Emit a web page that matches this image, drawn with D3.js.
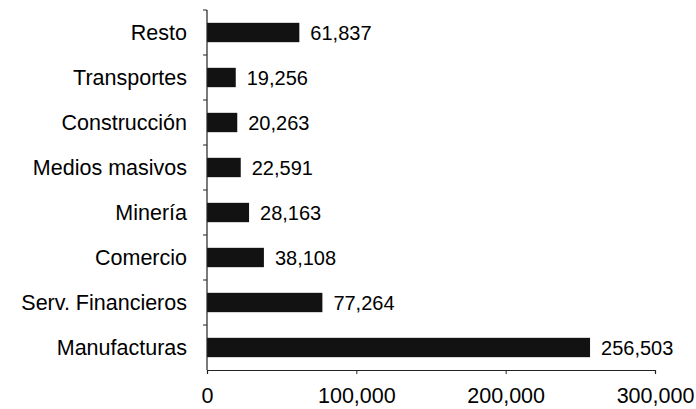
<!DOCTYPE html>
<meta charset="utf-8">
<style>
body { margin: 0; background: #fff; }
svg text { font-family: "Liberation Sans", Arial, sans-serif; fill: #000; }
</style>
<svg width="696" height="409"></svg>
<script src="https://cdn.jsdelivr.net/npm/d3@7"></script>
<script>

// sectors, top to bottom
var sectors = ["Resto", "Transportes", "Construcción", "Medios masivos",
               "Minería", "Comercio", "Serv. Financieros", "Manufacturas"];
var values = [61837, 19256, 20263, 22591, 28163, 38108, 77264, 256503];
var xTicks = [0, 100000, 200000, 300000];

var svg = d3.select("svg"),
    margin = {top: 10, right: 41, bottom: 39, left: 207},
    width = +svg.attr("width") - margin.left - margin.right,
    height = +svg.attr("height") - margin.top - margin.bottom,
    g = svg.append("g").attr("transform", "translate(" + margin.left + "," + margin.top + ")");

var x = d3.scaleLinear().domain([0, 300000]).range([0, width]);
var y = d3.scaleBand().domain(sectors).range([0, height]).paddingInner(0.57).paddingOuter(0.285);

var fmt = d3.format(",");

// bars
g.selectAll("rect.bar")
  .data(values)
  .enter().append("rect")
    .attr("class", "bar")
    .attr("x", 0)
    .attr("y", function(d, i) { return y(sectors[i]); })
    .attr("width", function(d) { return x(d); })
    .attr("height", y.bandwidth())
    .attr("fill", "#121212");

// value labels
g.selectAll("text.val")
  .data(values)
  .enter().append("text")
    .attr("class", "val")
    .attr("x", function(d) { return x(d) + 11; })
    .attr("y", function(d, i) { return y(sectors[i]) + y.bandwidth() / 2; })
    .attr("dy", "0.36em")
    .style("font-size", "20px")
    .text(function(d) { return fmt(d); });

// y axis: line, boundary ticks and category labels
var step = height / sectors.length;
g.append("line")
    .attr("x1", 0).attr("x2", 0)
    .attr("y1", 0).attr("y2", height)
    .attr("stroke", "#222").attr("stroke-width", 1.2);
g.selectAll("line.ytick")
  .data(d3.range(sectors.length))
  .enter().append("line")
    .attr("class", "ytick")
    .attr("x1", -4).attr("x2", 0)
    .attr("y1", function(i) { return i * step; })
    .attr("y2", function(i) { return i * step; })
    .attr("stroke", "#222");
g.selectAll("text.cat")
  .data(sectors)
  .enter().append("text")
    .attr("class", "cat")
    .attr("x", -20)
    .attr("y", function(d) { return y(d) + y.bandwidth() / 2; })
    .attr("dy", "0.36em")
    .attr("text-anchor", "end")
    .style("font-size", "21.5px")
    .text(function(d) { return d; });

// x axis
var xAxis = g.append("g")
    .attr("transform", "translate(0," + height + ")")
    .call(d3.axisBottom(x).tickValues(xTicks).tickFormat(fmt).tickSize(4).tickPadding(14));
xAxis.select(".domain").attr("stroke", "#222").attr("stroke-width", 1.2);
xAxis.selectAll(".tick line").attr("stroke", "#222");
xAxis.selectAll("text")
    .style("font-family", "'Liberation Sans', Arial, sans-serif")
    .style("font-size", "21.5px")
    .attr("fill", "#000");

</script>
